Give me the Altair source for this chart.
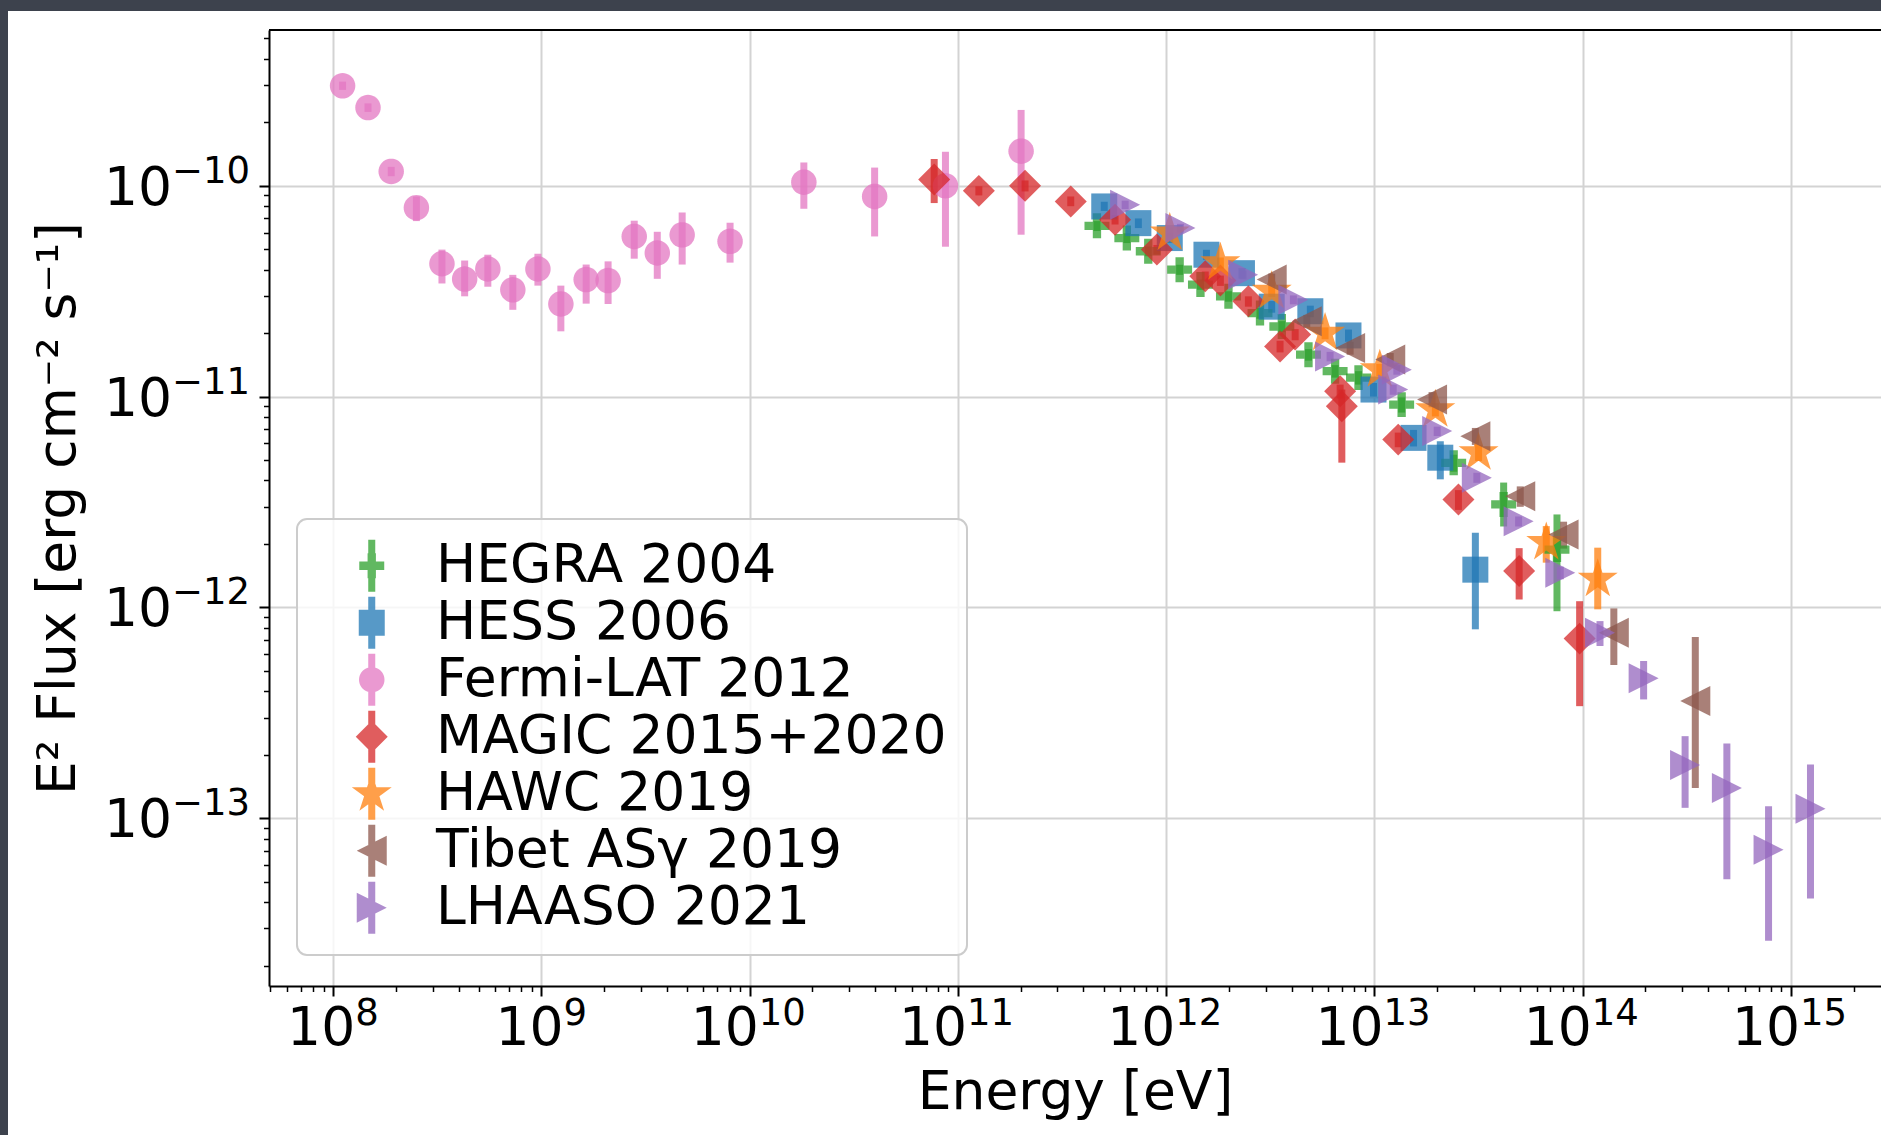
import math
import pandas as pd
import altair as alt

# ---------------- data ----------------
series_names = ["HEGRA 2004", "HESS 2006", "Fermi-LAT 2012", "MAGIC 2015+2020",
                "HAWC 2019", "Tibet ASγ 2019", "LHAASO 2021"]
series_colors = ["#2ca02c", "#1f77b4", "#e377c2", "#d62728", "#ff7f0e", "#8c564b", "#9467bd"]

hegra_E = [4.65e11, 6.47e11, 8.20e11, 1.16e12, 1.46e12, 1.99e12, 2.82e12, 3.59e12,
           4.82e12, 6.47e12, 8.38e12, 1.35e13, 2.40e13, 4.17e13, 7.52e13]
hegra_F = [6.46e-11, 5.65e-11, 4.89e-11, 4.00e-11, 3.40e-11, 2.99e-11, 2.49e-11, 2.15e-11,
           1.58e-11, 1.32e-11, 1.23e-11, 9.16e-12, 4.85e-12, 3.08e-12, 1.88e-12]
hegra_lo = [6.10e-11, 5.35e-11, 4.63e-11, 3.78e-11, 3.21e-11, 2.82e-11, 2.34e-11, 2.02e-11,
            1.48e-11, 1.23e-11, 1.14e-11, 8.40e-12, 4.40e-12, 2.42e-12, 9.59e-13]
hegra_hi = [6.80e-11, 5.95e-11, 5.15e-11, 4.22e-11, 3.59e-11, 3.16e-11, 2.64e-11, 2.28e-11,
            1.68e-11, 1.41e-11, 1.32e-11, 9.90e-12, 5.30e-12, 3.91e-12, 2.76e-12]

hess_E = [5.04e11, 7.35e11, 1.04e12, 1.56e12, 2.31e12, 3.21e12, 4.92e12, 7.50e12,
          9.89e12, 1.54e13, 2.07e13, 3.05e13]
hess_F = [7.98e-11, 6.65e-11, 5.65e-11, 4.71e-11, 3.85e-11, 2.67e-11, 2.54e-11, 1.95e-11,
          1.08e-11, 6.37e-12, 5.13e-12, 1.51e-12]
hess_lo = [7.60e-11, 6.30e-11, 5.35e-11, 4.45e-11, 3.63e-11, 2.50e-11, 2.38e-11, 1.82e-11,
           1.00e-11, 5.80e-12, 4.05e-12, 7.87e-13]
hess_hi = [8.40e-11, 7.00e-11, 5.95e-11, 4.97e-11, 4.07e-11, 2.84e-11, 2.70e-11, 2.08e-11,
           1.16e-11, 6.95e-12, 6.14e-12, 2.26e-12]

fermi_E = [1.11e8, 1.47e8, 1.90e8, 2.51e8, 3.33e8, 4.28e8, 5.53e8, 7.29e8, 9.62e8, 1.24e9,
           1.64e9, 2.09e9, 2.79e9, 3.60e9, 4.74e9, 8.05e9, 1.82e10, 3.98e10, 8.71e10, 2.01e11]
fermi_F = [2.98e-10, 2.35e-10, 1.17e-10, 7.87e-11, 4.27e-11, 3.61e-11, 4.03e-11, 3.21e-11,
           4.03e-11, 2.75e-11, 3.59e-11, 3.55e-11, 5.75e-11, 4.80e-11, 5.85e-11, 5.45e-11,
           1.04e-10, 8.90e-11, 1.00e-10, 1.46e-10]
fermi_lo = [2.85e-10, 2.24e-10, 1.11e-10, 6.80e-11, 3.44e-11, 2.99e-11, 3.32e-11, 2.58e-11,
            3.36e-11, 2.04e-11, 2.76e-11, 2.75e-11, 4.51e-11, 3.62e-11, 4.23e-11, 4.32e-11,
            7.78e-11, 5.75e-11, 5.14e-11, 5.86e-11]
fermi_hi = [3.12e-10, 2.46e-10, 1.23e-10, 8.90e-11, 4.98e-11, 4.42e-11, 4.71e-11, 3.78e-11,
            4.76e-11, 3.36e-11, 4.23e-11, 4.38e-11, 6.83e-11, 6.05e-11, 7.47e-11, 6.68e-11,
            1.29e-10, 1.22e-10, 1.45e-10, 2.29e-10]

magic_E = [7.69e10, 1.26e11, 2.10e11, 3.48e11, 5.68e11, 9.02e11, 1.54e12, 1.82e12, 2.48e12,
           3.52e12, 4.16e12, 6.84e12, 6.97e12, 1.30e13, 2.53e13, 4.95e13, 9.66e13]
magic_F = [1.07e-10, 9.46e-11, 1.00e-10, 8.43e-11, 6.90e-11, 4.98e-11, 3.72e-11, 3.55e-11,
           2.83e-11, 1.73e-11, 1.97e-11, 1.06e-11, 9.00e-12, 6.25e-12, 3.25e-12, 1.49e-12,
           7.11e-13]
magic_lo = [8.28e-11, 9.00e-11, 9.40e-11, 8.00e-11, 6.55e-11, 4.72e-11, 3.52e-11, 3.35e-11,
            2.67e-11, 1.62e-11, 1.85e-11, 9.80e-12, 4.86e-12, 5.75e-12, 2.90e-12, 1.09e-12,
            3.40e-13]
magic_hi = [1.34e-10, 9.95e-11, 1.06e-10, 8.90e-11, 7.25e-11, 5.24e-11, 3.92e-11, 3.75e-11,
            2.99e-11, 1.84e-11, 2.09e-11, 1.14e-11, 1.08e-11, 6.75e-12, 3.60e-12, 1.91e-12,
            1.07e-12]

hawc_E = [1.04e12, 1.82e12, 3.21e12, 5.79e12, 1.06e13, 1.96e13, 3.16e13, 6.68e13, 1.18e14]
hawc_F = [5.97e-11, 4.31e-11, 3.16e-11, 2.00e-11, 1.34e-11, 8.67e-12, 5.41e-12, 2.03e-12, 1.36e-12]
hawc_lo = [5.60e-11, 4.05e-11, 2.97e-11, 1.87e-11, 1.25e-11, 8.05e-12, 4.95e-12, 1.63e-12, 9.79e-13]
hawc_hi = [6.35e-11, 4.57e-11, 3.35e-11, 2.13e-11, 1.43e-11, 9.30e-12, 5.90e-12, 2.43e-12, 1.92e-12]

tibet_E = [3.21e12, 4.73e12, 7.64e12, 1.19e13, 1.89e13, 3.05e13, 5.01e13, 8.09e13, 1.41e14, 3.47e14]
tibet_F = [3.59e-11, 2.28e-11, 1.70e-11, 1.50e-11, 9.68e-12, 6.49e-12, 3.37e-12, 2.22e-12,
           7.59e-13, 3.60e-13]
tibet_lo = [3.35e-11, 2.12e-11, 1.58e-11, 1.39e-11, 8.90e-12, 5.90e-12, 3.00e-12, 1.90e-12,
            5.33e-13, 1.39e-13]
tibet_hi = [3.83e-11, 2.44e-11, 1.82e-11, 1.61e-11, 1.05e-11, 7.10e-12, 3.75e-12, 2.55e-12,
            9.89e-13, 7.23e-13]

lhaaso_E = [6.35e11, 1.17e12, 2.34e12, 4.08e12, 6.12e12, 1.28e13, 1.23e13, 2.00e13, 3.10e13,
            4.92e13, 7.80e13, 1.21e14, 1.96e14, 3.10e14, 4.92e14, 7.80e14, 1.24e15]
lhaaso_F = [8.13e-11, 6.31e-11, 3.78e-11, 2.88e-11, 1.55e-11, 1.34e-11, 1.08e-11, 6.86e-12,
            4.12e-12, 2.56e-12, 1.46e-12, 7.59e-13, 4.61e-13, 1.79e-13, 1.39e-13, 7.08e-14,
            1.11e-13]
lhaaso_lo = [7.75e-11, 6.00e-11, 3.60e-11, 2.74e-11, 1.47e-11, 1.27e-11, 1.02e-11, 6.50e-12,
             3.90e-12, 2.42e-12, 1.36e-12, 6.56e-13, 3.66e-13, 1.12e-13, 5.14e-14, 2.62e-14,
             4.16e-14]
lhaaso_hi = [8.50e-11, 6.60e-11, 3.96e-11, 3.02e-11, 1.63e-11, 1.41e-11, 1.14e-11, 7.20e-12,
             4.35e-12, 2.70e-12, 1.56e-12, 8.61e-13, 5.57e-13, 2.45e-13, 2.26e-13, 1.14e-13,
             1.80e-13]

# tick labels: base "10" plus a raised exponent
x_tick_values = [1e8, 1e9, 1e10, 1e11, 1e12, 1e13, 1e14, 1e15]
x_tick_exps = ["8", "9", "10", "11", "12", "13", "14", "15"]
y_tick_values = [1e-13, 1e-12, 1e-11, 1e-10]
y_tick_exps = ["−13", "−12", "−11", "−10"]
tick_base = "10"

x_title = "Energy [eV]"
y_title = "E² Flux [erg cm⁻² s⁻¹]"

# ---------------- layout / style ----------------
W, H = 1612, 956
PAD = {"left": 269, "top": 30, "right": 0, "bottom": 149}
X_DOMAIN = [10 ** 7.692, 10 ** 15.432]
Y_DOMAIN = [10 ** -13.796, 10 ** -9.261]
FONT = "DejaVu Sans"
FS = 53.5        # main font size
FS_EXP = 37      # exponent font size
FRAME = "#3d424d"
GRID = "#d3d3d3"
ALPHA = 0.75
SYM = 2704       # symbol size -> 52 px box, path unit = 26 px

x_minor = [m * 10.0 ** k for k in range(7, 16) for m in range(2, 10)
           if X_DOMAIN[0] <= m * 10.0 ** k <= X_DOMAIN[1]]
y_minor = [m * 10.0 ** k for k in range(-14, -9) for m in range(2, 10)
           if Y_DOMAIN[0] <= m * 10.0 ** k <= Y_DOMAIN[1]]


def poly(pts):
    return "M" + "L".join(f"{x:.4f},{y:.4f}" for x, y in pts) + "Z"


def rect_path(x0, y0, x1, y1):
    return poly([(x0, y0), (x1, y0), (x1, y1), (x0, y1)])


def circle_path(r, n=40):
    return poly([(r * math.cos(2 * math.pi * i / n), r * math.sin(2 * math.pi * i / n))
                 for i in range(n)])


def star_path(R, r):
    pts = []
    for k in range(10):
        a = math.radians(90 - 36 * k)
        rad = R if k % 2 == 0 else r
        pts.append((rad * math.cos(a), -rad * math.sin(a)))
    return poly(pts)


BAR = rect_path(-0.135, -1, 0.135, 1)
a, t = 0.48, 0.16
PLUS = poly([(-t, -a), (t, -a), (t, -t), (a, -t), (a, t), (t, t), (t, a), (-t, a),
             (-t, t), (-a, t), (-a, -t), (-t, -t)])
SQUARE = rect_path(-0.5, -0.5, 0.5, 0.5)
CIRCLE = circle_path(0.49)
DIAMOND = poly([(0, -0.615), (0.615, 0), (0, 0.615), (-0.615, 0)])
STAR = star_path(0.808, 0.309)
TRI_L = poly([(-0.577, 0), (0.577, -0.577), (0.577, 0.577)])
TRI_R = poly([(0.577, 0), (-0.577, 0.577), (-0.577, -0.577)])

marker_paths = [PLUS, SQUARE, CIRCLE, DIAMOND, STAR, TRI_L, TRI_R]
legend_paths = [p + BAR for p in marker_paths]


def table(name, E, F, lo, hi):
    return pd.DataFrame({"series": name, "E": E, "F": F, "lo": lo, "hi": hi})


df = pd.concat([
    table(series_names[0], hegra_E, hegra_F, hegra_lo, hegra_hi),
    table(series_names[1], hess_E, hess_F, hess_lo, hess_hi),
    table(series_names[2], fermi_E, fermi_F, fermi_lo, fermi_hi),
    table(series_names[3], magic_E, magic_F, magic_lo, magic_hi),
    table(series_names[4], hawc_E, hawc_F, hawc_lo, hawc_hi),
    table(series_names[5], tibet_E, tibet_F, tibet_lo, tibet_hi),
    table(series_names[6], lhaaso_E, lhaaso_F, lhaaso_lo, lhaaso_hi),
], ignore_index=True)

x_scale = alt.Scale(type="log", domain=X_DOMAIN, nice=False)
y_scale = alt.Scale(type="log", domain=Y_DOMAIN, nice=False)
color_scale = alt.Scale(domain=series_names, range=series_colors)

x_main_axis = alt.Axis(
    orient="bottom", values=x_tick_values, labels=False,
    grid=True, gridColor=GRID, gridWidth=2,
    domain=True, domainColor="black", domainWidth=2,
    ticks=True, tickColor="black", tickSize=10, tickWidth=2,
    title=x_title, titleFontSize=FS, titleFontWeight="normal", titleColor="black",
    titleX=W / 2, titleY=122, titleAlign="center", titleBaseline="alphabetic",
)
y_main_axis = alt.Axis(
    orient="left", values=y_tick_values, labels=False,
    grid=True, gridColor=GRID, gridWidth=2,
    domain=True, domainColor="black", domainWidth=2,
    ticks=True, tickColor="black", tickSize=10, tickWidth=2,
    title=y_title, titleFontSize=FS, titleFontWeight="normal", titleColor="black",
    titleX=-195, titleY=H / 2, titleAlign="center", titleBaseline="alphabetic", titleAngle=270,
)
x_minor_axis = alt.Axis(orient="bottom", values=x_minor, grid=False, domain=False, labels=False,
                        ticks=True, tickColor="black", tickSize=5.5, tickWidth=1.5, title=None)
y_minor_axis = alt.Axis(orient="left", values=y_minor, grid=False, domain=False, labels=False,
                        ticks=True, tickColor="black", tickSize=5.5, tickWidth=1.5, title=None)

one = pd.DataFrame({"k": [0]})

# dark slide frame (top and left strips outside the plot)
frame_top = alt.Chart(one).mark_rect(color=FRAME).encode(
    x=alt.value(-PAD["left"]), x2=alt.value(W), y=alt.value(-PAD["top"]), y2=alt.value(-19))
frame_left = alt.Chart(one).mark_rect(color=FRAME).encode(
    x=alt.value(-PAD["left"]), x2=alt.value(-261), y=alt.value(-PAD["top"]),
    y2=alt.value(H + PAD["bottom"]))
top_border = alt.Chart(one).mark_rule(color="black", strokeWidth=2).encode(
    x=alt.value(0), x2=alt.value(W), y=alt.value(0))

base = alt.Chart(df)

errorbars = base.mark_rule(strokeWidth=7, opacity=ALPHA).encode(
    x=alt.X("E:Q", scale=x_scale, axis=x_main_axis),
    y=alt.Y("lo:Q", scale=y_scale, axis=y_main_axis),
    y2="hi:Q",
    color=alt.Color("series:N", scale=color_scale, legend=None),
)

points = base.mark_point(filled=True, size=SYM, opacity=ALPHA, strokeWidth=0).encode(
    x=alt.X("E:Q", scale=x_scale, axis=x_minor_axis),
    y=alt.Y("F:Q", scale=y_scale, axis=y_minor_axis),
    color=alt.Color("series:N", scale=color_scale, legend=None),
    shape=alt.Shape("series:N", scale=alt.Scale(domain=series_names, range=marker_paths), legend=None),
)

leg = alt.Legend(
    orient="none", legendX=28, legendY=489, title=None,
    padding=20, rowPadding=2, symbolOffset=28, labelOffset=37.5,
    labelFontSize=FS, labelLimit=1000, labelColor="black",
    fillColor="rgba(255,255,255,0.8)", strokeColor="#cccccc", cornerRadius=10,
    symbolSize=SYM, symbolStrokeWidth=0, symbolOpacity=ALPHA,
)

legend_layer = base.mark_point(filled=True, size=SYM, opacity=ALPHA, strokeWidth=0, clip=True).encode(
    x=alt.X("E:Q", scale=x_scale, axis=None),
    y=alt.value(-600),
    color=alt.Color("series:N", scale=color_scale, legend=leg),
    shape=alt.Shape("series:N", scale=alt.Scale(domain=series_names, range=legend_paths), legend=leg),
)

# ---- tick labels: "10" with a raised exponent ----
xt = pd.DataFrame({"v": x_tick_values, "exp": x_tick_exps})
yt = pd.DataFrame({"v": y_tick_values, "exp": y_tick_exps})


def x_labels(ndig, dx_base, dx_exp):
    src = (alt.Chart(xt)
           .transform_calculate(n="length(datum.exp)")
           .transform_filter(f"datum.n == {ndig}"))
    b = src.mark_text(text=tick_base, fontSize=FS, align="center", baseline="alphabetic",
                      dx=dx_base, color="black").encode(
        x=alt.X("v:Q", scale=x_scale, axis=None), y=alt.value(H + 59))
    e = src.mark_text(fontSize=FS_EXP, align="left", baseline="alphabetic",
                      dx=dx_exp, color="black").encode(
        x=alt.X("v:Q", scale=x_scale, axis=None), y=alt.value(H + 38.5), text="exp:N")
    return [b, e]


x_lab_layers = x_labels(1, -12, 22) + x_labels(2, -25, 9)

y_base = alt.Chart(yt).mark_text(text=tick_base, fontSize=FS, align="right", baseline="alphabetic",
                                 dy=19, color="black").encode(
    x=alt.value(-97), y=alt.Y("v:Q", scale=y_scale, axis=None))
y_exp = alt.Chart(yt).mark_text(fontSize=FS_EXP, align="left", baseline="alphabetic",
                                dy=-3, color="black").encode(
    x=alt.value(-97), y=alt.Y("v:Q", scale=y_scale, axis=None), text="exp:N")

chart = (
    alt.layer(frame_top, frame_left, top_border, errorbars, points, legend_layer,
              *x_lab_layers, y_base, y_exp)
    .resolve_scale(color="independent", shape="independent")
    .resolve_axis(x="independent", y="independent")
    .properties(width=W, height=H, padding=PAD, autosize=alt.AutoSizeParams(type="none"),
                background="white")
    .configure(font=FONT)
    .configure_view(stroke=None)
    .configure_legend(strokeWidth=2)
)

chart.save("out.html", embed_options={"renderer": "svg", "actions": False})
